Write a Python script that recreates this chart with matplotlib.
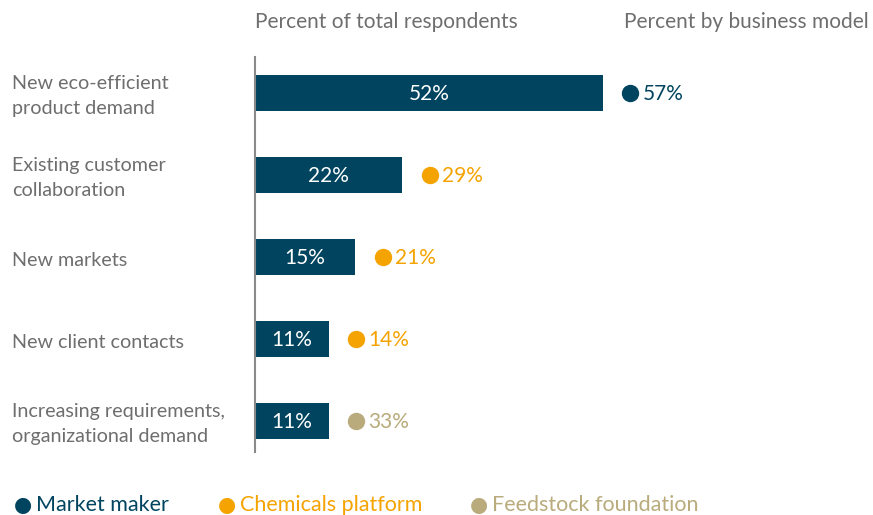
import matplotlib.pyplot as plt

categories = ['New eco-efficient\nproduct demand', 'Existing customer\ncollaboration',
              'New markets', 'New client contacts',
              'Increasing requirements,\norganizational demand']
total_pct = [52, 22, 15, 11, 11]
model_pct = [57, 29, 21, 14, 33]
model_group = ['Market maker', 'Chemicals platform', 'Chemicals platform',
               'Chemicals platform', 'Feedstock foundation']
groups = ['Market maker', 'Chemicals platform', 'Feedstock foundation']

colors = {'Market maker': '#00445F', 'Chemicals platform': '#F5A300',
          'Feedstock foundation': '#B9AB7C'}
grey = '#6E6E6E'
plt.rcParams['font.family'] = ['Lato', 'DejaVu Sans']

fig = plt.figure(figsize=(8.73, 5.15), dpi=100)
ax = fig.add_axes([255 / 873, 1 - 452 / 515, (873 - 255) / 873, (452 - 57) / 515])
ax.set_xlim(0, 618 / 6.69)
ax.set_ylim(4 + 31 / 82, -36 / 82)

ypos = list(range(len(categories)))
ax.barh(ypos, total_pct, height=0.45, color=colors['Market maker'])
for y, v, m, g in zip(ypos, total_pct, model_pct, model_group):
    ax.text(v / 2, y + 0.01, f'{v}%', color='white', ha='center', va='center', fontsize=15)
    ax.plot(v + 4.1, y, 'o', color=colors[g], markersize=11.5)
    ax.text(v + 5.9, y + 0.01, f'{m}%', color=colors[g], ha='left', va='center', fontsize=15)

for s in ['top', 'right', 'bottom']:
    ax.spines[s].set_visible(False)
ax.spines['left'].set_color('#8A8A8A')
ax.spines['left'].set_linewidth(1.5)
ax.set_xticks([])
ax.set_yticks([])

for y, c in zip(ypos, categories):
    ax.text(-243 / 6.69, y + 0.04, c, ha='left', va='center', fontsize=14.2, color=grey,
            linespacing=1.6)

fig.text(255 / 873, 1 - 22 / 515, 'Percent of total respondents', fontsize=15,
         color=grey, ha='left', va='center')
fig.text(624 / 873, 1 - 22 / 515, 'Percent by business model', fontsize=15,
         color=grey, ha='left', va='center')

# legend row
leg_x = [14, 218, 470]
for x, g in zip(leg_x, groups):
    fig.text(x / 873, 1 - 505 / 515, '\u25cf', fontsize=15, color=colors[g],
             ha='left', va='center', family='DejaVu Sans')
    fig.text((x + 22) / 873, 1 - 505 / 515, g, fontsize=15.5, color=colors[g],
             ha='left', va='center')

fig.savefig('out.png', dpi=100)
